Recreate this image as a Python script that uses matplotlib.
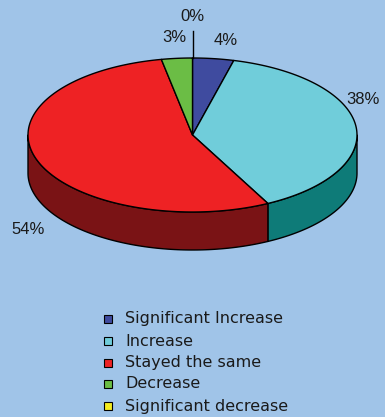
import numpy as np
import matplotlib.pyplot as plt
from matplotlib.patches import Polygon, Rectangle

# survey answers and their shares (percent)
categories = ["Significant Increase", "Increase", "Stayed the same",
              "Decrease", "Significant decrease"]
shares = [4, 38, 54, 3, 0]

top_colors = ["#3f4b9f", "#70cdda", "#ee2224", "#6bbd45", "#f4ec1f"]
side_colors = ["#25306e", "#0e7b78", "#7a1315", "#3d7a25", "#9a9410"]

bg = "#a0c4e8"

# pie geometry in pixel units
cx, cy = 192.5, 135.0
rx, ry = 164.5, 77.0
depth = 38.0

# label anchor per slice (pixels)
label_pos = [(226, 40), (363, 99), (28, 229), (174, 37), (192, 16)]

fig = plt.figure(figsize=(3.85, 4.17), dpi=100)
fig.patch.set_facecolor(bg)
ax = fig.add_axes([0, 0, 1, 1])
ax.set_xlim(0, 385)
ax.set_ylim(417, 0)
ax.axis("off")


def ellipse_pts(a0, a1, dy=0.0, n=120):
    t = np.radians(np.linspace(a0, a1, n))
    return np.column_stack([cx + rx * np.cos(t), cy - ry * np.sin(t) + dy])


total = float(sum(shares))
fracs = np.cumsum([0] + shares) / total
angles = 90 - 360 * fracs  # clockwise from 12 o'clock

# side walls first (only the front half is visible)
for i in range(len(shares)):
    a_hi, a_lo = angles[i], angles[i + 1]
    if a_hi - a_lo <= 0:
        continue
    for k in range(-2, 2):
        lo = max(a_lo, -180 + 360 * k)
        hi = min(a_hi, 360 * k)
        if hi <= lo:
            continue
        top = ellipse_pts(hi, lo)
        bot = ellipse_pts(lo, hi, dy=depth)
        ax.add_patch(Polygon(np.vstack([top, bot]), closed=True,
                             facecolor=side_colors[i], edgecolor="black",
                             linewidth=1.0, joinstyle="round"))

# top faces
for i in range(len(shares)):
    a_hi, a_lo = angles[i], angles[i + 1]
    if a_hi - a_lo <= 0:
        continue
    arc = ellipse_pts(a_hi, a_lo)
    pts = np.vstack([[cx, cy], arc])
    ax.add_patch(Polygon(pts, closed=True, facecolor=top_colors[i],
                         edgecolor="black", linewidth=1.0, joinstyle="round"))

# leader line for the empty slice
ax.plot([cx, cx], [cy - ry, 31], color="black", linewidth=1.0)

for i, (x, y) in enumerate(label_pos):
    ax.text(x, y, f"{shares[i]}%", ha="center", va="center",
            fontsize=12, family="Liberation Sans", color="#1a1a1a")

# legend
row_y = [319, 341, 363, 384, 406]
for i, name in enumerate(categories):
    y = row_y[i]
    ax.add_patch(Rectangle((104, y - 4), 8, 8, facecolor=top_colors[i],
                           edgecolor="black", linewidth=0.8))
    ax.text(125, y, name, ha="left", va="center", fontsize=11.5,
            family="DejaVu Sans", color="#1a1a1a")

fig.savefig("out.png", dpi=100, facecolor=bg)
